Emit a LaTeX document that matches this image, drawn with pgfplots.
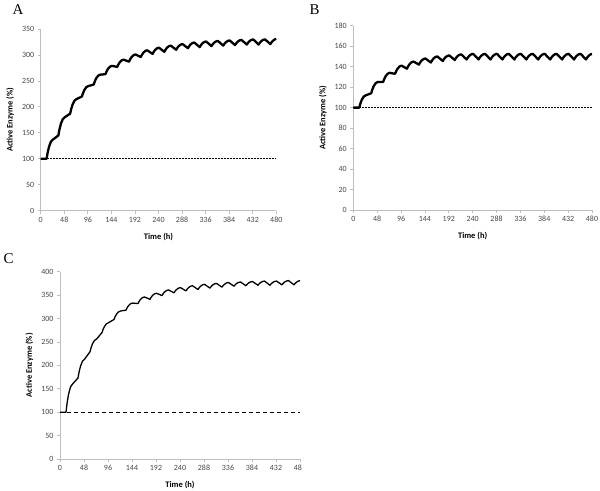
\documentclass[border=0pt]{standalone}
\usepackage{pgfplots}
\pgfplotsset{compat=1.18}
\usepackage{fontspec}
\setmainfont{Carlito}
\newfontfamily\seriffont{Liberation Serif}
\definecolor{axgray}{RGB}{190,190,190}
\definecolor{tickgray}{RGB}{70,70,70}
\pgfplotsset{
  panel/.style={
    scale only axis,
    axis x line=bottom, axis y line=left,
    axis line style={-, draw=axgray, line width=0.8bp},
    tick align=outside, major tick length=3bp,
    tick style={draw=axgray, line width=0.8bp},
    xmin=0, xmax=480, xtick={0,48,...,480}, ymin=0,
    ticklabel style={font=\fontsize{8}{9}\selectfont, text=tickgray},
    /pgf/number format/assume math mode=true,
    xlabel={Time (h)}, ylabel={Active Enzyme (\%)},
    every axis x label/.style={at={(axis description cs:0.5,0)}, yshift=-26bp, anchor=center, font=\bfseries\fontsize{8.5}{9}\selectfont},
    every axis y label/.style={at={(axis description cs:0,0.5)}, xshift=-30.5bp, rotate=90, anchor=center, font=\bfseries\fontsize{8.5}{9}\selectfont},
    clip=false,
  },
  thickcurve/.style={black, line width=2.3bp, line join=round, no marks},
  thincurve/.style={black, line width=1.3bp, line join=round, no marks},
}
\begin{document}
\begin{tikzpicture}
\useasboundingbox (0,0) rectangle (600bp,-491bp);
% ---------------- A ----------------
\node[anchor=base west, font=\seriffont\fontsize{15}{15}\selectfont] at (9bp,-14bp) {A};
\begin{axis}[panel, at={(40.7bp,-210.7bp)}, anchor=south west,
  width=235.6bp, height=181.7bp, ymax=350, ytick={0,50,...,350}]
\addplot[black, line width=1.1bp, dash pattern=on 2bp off 1bp] coordinates {(0,100)(480,100)};
\addplot[thickcurve] coordinates {
(0,100)(12,100)(14,111.1)(17,123.3)(21,133.3)(25,137)
(36,145)(38,155.5)(41,167.1)(45,176.5)(49,180)
(60,187)(62,195.4)(65,204.6)(69,212.2)(73,215)
(84,220)(86,226)(89,232.6)(93,238)(97,240)
(108,243)(110,248.7)(113,255)(117,260.1)(121,262)
(132,263)(134,267.8)(137,273.1)(141,277.4)(145,279)
(156,277)(158,281.2)(161,285.8)(165,289.6)(169,291)
(180,287)(182,291.2)(185,295.8)(189,299.6)(193,301)
(204,296)(206,299.9)(209,304.2)(213,307.7)(217,309)
(228,302)(230,305.6)(233,309.6)(237,312.8)(241,314)
(252,306)(254,309.6)(257,313.6)(261,316.8)(265,318)
(276,310)(278,313.3)(281,316.9)(285,319.9)(289,321)
(300,313)(302,316.3)(305,319.9)(309,322.9)(313,324)
(324,315)(326,318.3)(329,321.9)(333,324.9)(337,326)
(348,317)(350,320)(353,323.3)(357,326)(361,327)
(372,318)(374,321)(377,324.3)(381,327)(385,328)
(396,319)(398,322)(401,325.3)(405,328)(409,329)
(420,320)(422,323)(425,326.3)(429,329)(433,330)
(444,320)(446,323)(449,326.3)(453,329)(457,330)
(468,321)(470,324)(473,327.3)(477,330)(480,330.8)
};
\end{axis}
% ---------------- B ----------------
\node[anchor=base west, font=\seriffont\fontsize{15}{15}\selectfont] at (306bp,-14bp) {B};
\begin{axis}[panel, at={(353.3bp,-210bp)}, anchor=south west,
  width=238.7bp, height=184.3bp, ymax=180, ytick={0,20,...,180}]
\addplot[black, line width=1.1bp, dash pattern=on 2bp off 1bp] coordinates {(0,100)(480,100)};
\addplot[thickcurve] coordinates {
(0,100)(12,100)(14,103.6)(17,107.6)(21,110.8)(25,112)
(36,114)(38,117.3)(41,120.9)(45,123.9)(49,125)
(60,125)(62,127.7)(65,130.7)(69,133.1)(73,134)
(84,133)(86,135.4)(89,138)(93,140.2)(97,141)
(108,138)(110,140.1)(113,142.4)(117,144.3)(121,145)
(132,142)(134,143.8)(137,145.8)(141,147.4)(145,148)
(156,144)(158,145.8)(161,147.8)(165,149.4)(169,150)
(180,145.5)(182,147.2)(185,149)(189,150.5)(193,151)
(204,146.5)(206,148.2)(209,150)(213,151.5)(217,152)
(228,147)(230,148.7)(233,150.5)(237,152)(241,152.5)
(252,147)(254,148.7)(257,150.5)(261,152)(265,152.5)
(276,147)(278,148.7)(281,150.5)(285,152)(289,152.5)
(300,147)(302,148.7)(305,150.5)(309,152)(313,152.5)
(324,147)(326,148.7)(329,150.5)(333,152)(337,152.5)
(348,147)(350,148.7)(353,150.5)(357,152)(361,152.5)
(372,147)(374,148.7)(377,150.5)(381,152)(385,152.5)
(396,147)(398,148.7)(401,150.5)(405,152)(409,152.5)
(420,147)(422,148.7)(425,150.5)(429,152)(433,152.5)
(444,147)(446,148.7)(449,150.5)(453,152)(457,152.5)
(468,147)(470,148.7)(473,150.5)(477,152)(480,152.3)
};
\end{axis}
% ---------------- C ----------------
\node[anchor=base west, font=\seriffont\fontsize{15}{15}\selectfont] at (0bp,-263bp) {C};
\begin{scope}
\clip (0,-240bp) rectangle (301bp,-491bp);
\begin{axis}[panel, at={(60bp,-459bp)}, anchor=south west,
  width=240bp, height=187.3bp, ymax=400, ytick={0,50,...,400}]
\addplot[black, line width=1bp, dash pattern=on 4bp off 3bp] coordinates {(0,100)(480,100)};
\addplot[thincurve] coordinates {
(0,100)(12,100)(14,118)(17,137.8)(21,154)(25,160)
(36,173)(38,185)(41,198.2)(45,209)(49,213)
(60,229)(62,237.1)(65,246)(69,253.3)(73,256)
(84,270)(86,276.3)(89,283.2)(93,288.9)(97,291)
(108,298)(110,303.4)(113,309.3)(117,314.2)(121,316)
(132,318)(134,322.5)(137,327.5)(141,331.5)(145,333)
(156,332)(158,336.2)(161,340.8)(165,344.6)(169,346)
(180,341)(182,344.9)(185,349.2)(189,352.7)(193,354)
(204,349)(206,352.6)(209,356.6)(213,359.8)(217,361)
(228,355)(230,358.3)(233,361.9)(237,364.9)(241,366)
(252,359)(254,362.3)(257,365.9)(261,368.9)(265,370)
(276,362)(278,365.3)(281,368.9)(285,371.9)(289,373)
(300,365)(302,368)(305,371.3)(309,374)(313,375)
(324,367)(326,370)(329,373.3)(333,376)(337,377)
(348,369)(350,371.7)(353,374.7)(357,377.1)(361,378)
(372,370)(374,372.7)(377,375.7)(381,378.1)(385,379)
(396,371)(398,373.7)(401,376.7)(405,379.1)(409,380)
(420,371)(422,373.7)(425,376.7)(429,379.1)(433,380)
(444,372)(446,374.7)(449,377.7)(453,380.1)(457,381)
(468,372)(470,374.7)(473,377.7)(477,380.1)(480,380.8)
};
\end{axis}
\end{scope}
\end{tikzpicture}
\end{document}
